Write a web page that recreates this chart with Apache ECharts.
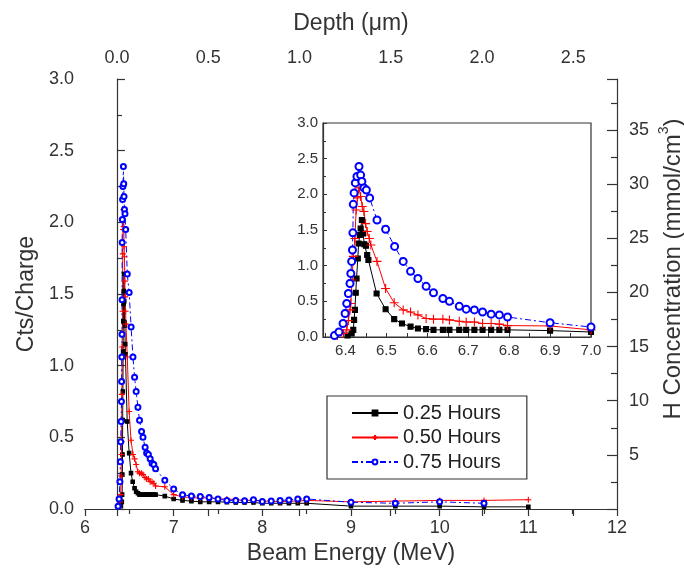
<!DOCTYPE html>
<html><head><meta charset="utf-8">
<script src="https://cdn.jsdelivr.net/npm/echarts@6/dist/echarts.min.js"></script>
<style>html,body{margin:0;padding:0;background:#fff}#c{width:684px;height:574px}</style>
</head><body><div id="c"></div>
<script>
// ---- data ----
const seriesNames = ['0.25 Hours', '0.50 Hours', '0.75 Hours'];

const energy25 = [6.405,6.415,6.419,6.421,6.423,6.425,6.427,6.430,6.432,6.435,6.437,6.440,6.443,6.446,6.450,6.453,6.456,6.476,6.498,6.519,6.538,6.559,6.577,6.597,6.615,6.638,6.654,6.678,6.695,6.715,6.735,6.756,6.776,6.796,6.9,7.0,7.1,7.2,7.3,7.4,7.5,7.6,7.7,7.8,7.9,8.0,8.1,8.2,8.3,8.4,8.5,9.0,9.5,10.0,10.5,11.0];
const counts25 = [0.02,0.05,0.10,0.24,0.38,0.62,0.82,1.10,1.31,1.43,1.52,1.64,1.45,1.30,1.28,1.15,1.08,0.61,0.39,0.25,0.19,0.145,0.12,0.11,0.10,0.10,0.10,0.10,0.10,0.10,0.10,0.10,0.10,0.10,0.09,0.07,0.06,0.055,0.05,0.05,0.05,0.048,0.045,0.045,0.045,0.04,0.04,0.04,0.04,0.04,0.04,0.02,0.02,0.02,0.015,0.015];

const energy50 = [6.380,6.395,6.403,6.407,6.411,6.413,6.416,6.419,6.423,6.426,6.429,6.433,6.437,6.441,6.445,6.449,6.453,6.458,6.462,6.477,6.498,6.519,6.541,6.559,6.577,6.597,6.615,6.638,6.654,6.678,6.695,6.715,6.735,6.756,6.776,6.796,6.9,7.0,7.1,7.2,7.3,7.4,7.5,7.6,7.7,7.8,7.9,8.0,8.1,8.2,8.3,8.4,8.5,9.0,9.5,10.0,10.5,11.0];
const counts50 = [0.02,0.05,0.10,0.23,0.38,0.47,0.80,1.13,1.38,1.78,1.95,2.09,1.97,1.83,1.76,1.59,1.48,1.38,1.29,1.06,0.68,0.48,0.38,0.35,0.31,0.26,0.25,0.25,0.24,0.22,0.21,0.21,0.19,0.19,0.18,0.16,0.155,0.10,0.085,0.08,0.075,0.08,0.07,0.07,0.065,0.06,0.06,0.055,0.055,0.05,0.055,0.055,0.06,0.05,0.055,0.06,0.06,0.065];

const energy75 = [6.373,6.384,6.394,6.399,6.403,6.407,6.411,6.413,6.415,6.417,6.418,6.419,6.421,6.424,6.428,6.433,6.437,6.440,6.445,6.451,6.459,6.477,6.498,6.520,6.541,6.559,6.577,6.597,6.615,6.638,6.654,6.678,6.695,6.715,6.735,6.756,6.776,6.796,6.9,7.0,7.1,7.2,7.3,7.4,7.5,7.6,7.7,7.8,7.9,8.0,8.1,8.2,8.3,8.4,8.5,9.0,9.5,10.0,10.5];
const counts75 = [0.02,0.07,0.19,0.33,0.47,0.61,0.75,0.89,1.06,1.22,1.46,1.86,2.02,2.16,2.25,2.39,2.27,2.18,2.09,2.06,1.95,1.64,1.51,1.27,1.06,0.92,0.82,0.71,0.62,0.54,0.50,0.43,0.39,0.38,0.35,0.32,0.31,0.28,0.20,0.14,0.10,0.09,0.088,0.08,0.07,0.06,0.06,0.058,0.065,0.053,0.055,0.06,0.062,0.07,0.07,0.047,0.04,0.05,0.04];

const depthTicks = [0, 0.5, 1.0, 1.5, 2.0, 2.5];
const hConcTicks = [5, 10, 15, 20, 25, 30, 35];
const insetXTicks = [6.4, 6.5, 6.6, 6.7, 6.8, 6.9, 7.0];
const insetXMinorTicks = [6.35,6.4,6.45,6.5,6.55,6.6,6.65,6.7,6.75,6.8,6.85,6.9,6.95,7.0];

// ---- chart ----
const FONT = '"Liberation Sans", Arial, Helvetica, sans-serif';
const TXT = '#333';
const AX = '#333';
const energies = [energy25, energy50, energy75];
const counts = [counts25, counts50, counts75];
const colors = ['#000000', '#ff0000', '#0000ff'];
const symbols = ['rect', 'path://M0,5L10,5M5,0L5,10', 'emptyCircle'];
const lineTypes = ['solid', 'solid', [6, 3, 2, 3]];
const mainSizes = [3.5, 6, 5];
const insetSizes = [5, 9, 7];

function pairs(e, c) { return e.map((x, i) => [x, c[i]]); }

function mk(i, xi, yi, sizes) {
  return {
    name: seriesNames[i], type: 'line', xAxisIndex: xi, yAxisIndex: yi,
    data: pairs(energies[i], counts[i]),
    symbol: symbols[i], symbolSize: sizes[i], showSymbol: true, showAllSymbol: true,
    lineStyle: { color: colors[i], width: 1, type: lineTypes[i] },
    itemStyle: { color: colors[i], borderColor: colors[i], borderWidth: 1.1 },
    emphasis: { disabled: true }, animation: false, clip: true
  };
}

const axisLineStyle = { show: true, lineStyle: { color: AX, width: 1.2 } };
const labelStyle = { color: TXT, fontFamily: FONT, fontSize: 18 };
const nameStyle = { color: TXT, fontFamily: FONT, fontSize: 23 };

const option = {
  animation: false,
  grid: [
    { left: 85, right: 67, top: 79, bottom: 65, show: false },
    { left: 323, top: 123, width: 268, height: 214, show: true, borderColor: AX, borderWidth: 1.2, backgroundColor: '#fff' }
  ],
  xAxis: [
    { type: 'value', gridIndex: 0, position: 'bottom', min: 6, max: 12, interval: 1,
      axisLine: axisLineStyle, splitLine: { show: false },
      axisTick: { show: true, inside: false, length: 7, lineStyle: { color: AX, width: 1.2 } },
      minorTick: { show: true, splitNumber: 2, length: 5, lineStyle: { color: AX, width: 1.2 } },
      axisLabel: Object.assign({ margin: 10 }, labelStyle),
      name: 'Beam Energy (MeV)', nameLocation: 'middle', nameGap: 33, nameTextStyle: nameStyle },
    { type: 'value', gridIndex: 0, position: 'top', min: -0.175, max: 2.74,
      axisLine: axisLineStyle, splitLine: { show: false },
      axisTick: { show: true, inside: true, length: 7, customValues: depthTicks, lineStyle: { color: AX, width: 1.2 } },
      axisLabel: Object.assign({ margin: 12, customValues: depthTicks, formatter: v => v.toFixed(1) }, labelStyle),
      name: 'Depth (\u03bcm)', nameLocation: 'middle', nameGap: 44, nameTextStyle: nameStyle },
    { type: 'value', gridIndex: 1, position: 'bottom', min: 6.345, max: 7.0,
      axisLine: { show: true, lineStyle: { color: AX, width: 1.2 } }, splitLine: { show: false },
      axisTick: { show: true, inside: true, length: 4, customValues: insetXMinorTicks, lineStyle: { color: AX, width: 1 } },
      axisLabel: { show: true, customValues: insetXTicks, formatter: v => v.toFixed(1), margin: 6, color: TXT, fontFamily: FONT, fontSize: 15 } }
  ],
  yAxis: [
    { type: 'value', gridIndex: 0, position: 'left', min: 0, max: 3, interval: 0.5,
      axisLine: axisLineStyle, splitLine: { show: false },
      axisTick: { show: true, inside: true, length: 8, lineStyle: { color: AX, width: 1.2 } },
      minorTick: { show: true, splitNumber: 2, length: 5, lineStyle: { color: AX, width: 1.2 } },
      axisLabel: Object.assign({ margin: 11, formatter: v => v.toFixed(1) }, labelStyle),
      name: 'Cts/Charge', nameLocation: 'middle', nameGap: 47, nameTextStyle: nameStyle },
    { type: 'value', gridIndex: 0, position: 'right', min: 0, max: 39.7, interval: 5,
      axisLine: axisLineStyle, splitLine: { show: false },
      axisTick: { show: true, inside: true, length: 10, lineStyle: { color: AX, width: 1.2 } },
      minorTick: { show: true, splitNumber: 2, length: 6, lineStyle: { color: AX, width: 1.2 } },
      axisLabel: Object.assign({ margin: 12, customValues: hConcTicks }, labelStyle) },
    { type: 'value', gridIndex: 1, position: 'left', min: 0, max: 3, interval: 0.5,
      axisLine: { show: true, lineStyle: { color: AX, width: 1.2 } }, splitLine: { show: false },
      axisTick: { show: true, inside: true, length: 4, lineStyle: { color: AX, width: 1 } },
      minorTick: { show: true, splitNumber: 2, length: 3, lineStyle: { color: AX, width: 1 } },
      axisLabel: { margin: 5, formatter: v => v.toFixed(1), color: TXT, fontFamily: FONT, fontSize: 15 } }
  ],
  legend: {
    orient: 'vertical', left: 327, top: 396, data: seriesNames,
    padding: [7, 26, 7, 24], itemWidth: 46, itemHeight: 6, itemGap: 4.5, itemTextGap: 19,
    borderColor: AX, borderWidth: 1.2, backgroundColor: '#fff',
    textStyle: { color: '#222', fontFamily: FONT, fontSize: 20 }
  },
  graphic: [
    { type: 'text', x: 671, y: 269, rotation: Math.PI / 2,
      style: {
        text: '{a|H Concentration (mmol/cm}{s|3}{a|)}',
        align: 'center', verticalAlign: 'middle',
        rich: {
          a: { fontFamily: FONT, fontSize: 24, fill: TXT, lineHeight: 28, verticalAlign: 'bottom' },
          s: { fontFamily: FONT, fontSize: 14, fill: TXT, lineHeight: 28, verticalAlign: 'top' }
        }
      } }
  ],
  series: [
    mk(0, 0, 0, mainSizes), mk(1, 0, 0, mainSizes), mk(2, 0, 0, mainSizes),
    mk(0, 2, 2, insetSizes), mk(1, 2, 2, insetSizes), mk(2, 2, 2, insetSizes)
  ]
};

const chart = echarts.init(document.getElementById('c'), null, { renderer: 'canvas' });
chart.setOption(option);
</script>
</body></html>
